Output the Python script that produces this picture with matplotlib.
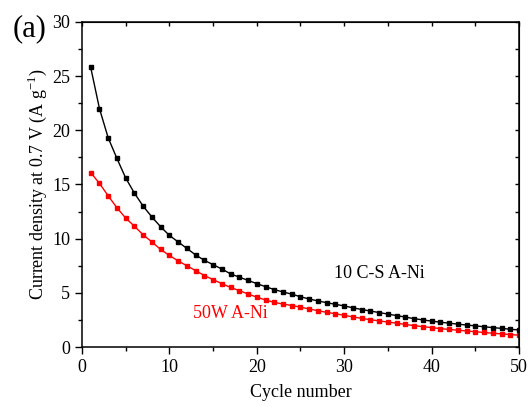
import matplotlib
matplotlib.use("Agg")
import matplotlib.pyplot as plt
from matplotlib.ticker import MultipleLocator

plt.rcParams['font.family'] = ['Liberation Serif', 'DejaVu Serif']
plt.rcParams['mathtext.fontset'] = 'custom'
plt.rcParams['mathtext.rm'] = 'Liberation Serif'

# cycle number
cycles = list(range(1, 51))

# 10 C-S A-Ni (black)
cs_ani = [25.8, 22.0, 19.3, 17.4, 15.6, 14.2, 13.0, 12.0, 11.1, 10.3,
          9.7, 9.1, 8.5, 8.0, 7.6, 7.2, 6.75, 6.45, 6.15, 5.85,
          5.57, 5.3, 5.08, 4.88, 4.64, 4.43, 4.25, 4.09, 3.94, 3.79,
          3.62, 3.46, 3.32, 3.18, 3.04, 2.9, 2.76, 2.62, 2.5, 2.39,
          2.29, 2.2, 2.11, 2.03, 1.95, 1.87, 1.79, 1.72, 1.64, 1.57]

# 50W A-Ni (red)
w_ani = [16.1, 15.1, 13.95, 12.85, 11.9, 11.15, 10.35, 9.7, 9.0, 8.45,
         7.95, 7.5, 7.05, 6.6, 6.22, 5.85, 5.5, 5.2, 4.9, 4.6,
         4.34, 4.12, 3.97, 3.83, 3.68, 3.51, 3.35, 3.2, 3.07, 2.92,
         2.78, 2.64, 2.52, 2.41, 2.3, 2.2, 2.08, 1.97, 1.88, 1.79,
         1.7, 1.62, 1.55, 1.48, 1.41, 1.34, 1.27, 1.21, 1.15, 1.09]

fig = plt.figure(figsize=(5.31, 4.07), dpi=100)
ax = fig.add_axes([0.1544, 0.1474, 0.823, 0.7986])

ax.plot(cycles, cs_ani, color='black', lw=1.0, marker='s', ms=3.4, mec='black')
ax.plot(cycles, w_ani, color='red', lw=1.0, marker='s', ms=3.4, mec='red')

ax.set_xlim(0, 50)
ax.set_ylim(0, 30)
ax.xaxis.set_major_locator(MultipleLocator(10))
ax.xaxis.set_minor_locator(MultipleLocator(5))
ax.yaxis.set_major_locator(MultipleLocator(5))
ax.yaxis.set_minor_locator(MultipleLocator(2.5))

for s in ax.spines.values():
    s.set_linewidth(1.1)

ax.tick_params(which='major', direction='out', length=5, width=1.0, labelsize=13,
               top=False, right=False)
ax.tick_params(which='minor', direction='out', length=3, width=1.0,
               top=False, right=False)

# inward ticks on the top/right spines
ax2 = ax.secondary_xaxis('top')
ax2.xaxis.set_major_locator(MultipleLocator(5))
ax2.tick_params(direction='in', length=3, width=1.0, labeltop=False)
ax3 = ax.secondary_yaxis('right')
ax3.yaxis.set_major_locator(MultipleLocator(2.5))
ax3.tick_params(direction='in', length=3, width=1.0, labelright=False)

ax.set_xlabel('Cycle number', fontsize=13, labelpad=6)
ax.set_ylabel('Current density at 0.7 V (A g$^{\\mathregular{-1}}$)', fontsize=13, labelpad=2)

ax.text(28.8, 6.8, '10 C-S A-Ni', fontsize=13, color='black', va='center')
ax.text(12.7, 3.1, '50W A-Ni', fontsize=13, color='red', va='center')

fig.text(0.055, 0.93, '(a)', fontsize=22, ha='center', va='center')

fig.savefig('out.png', dpi=100)
